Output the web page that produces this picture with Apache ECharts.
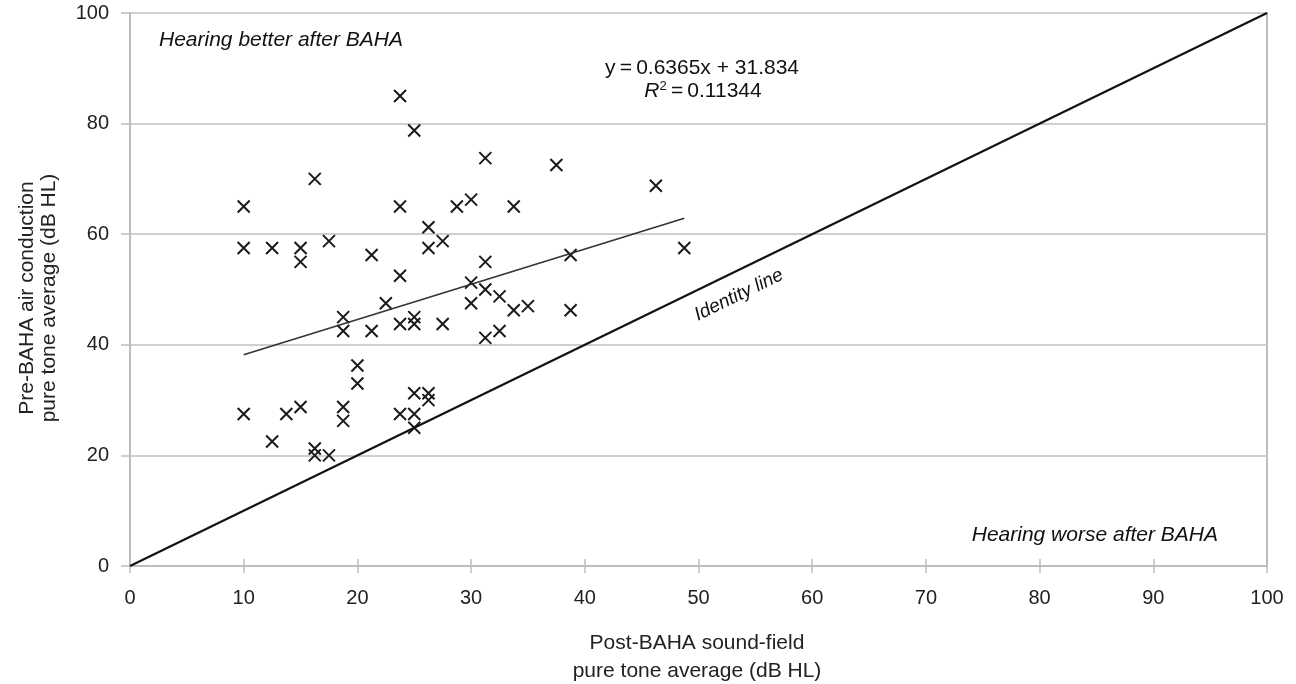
<!DOCTYPE html>
<html>
<head>
<meta charset="utf-8">
<script src="https://cdn.jsdelivr.net/npm/echarts@6/dist/echarts.min.js"></script>
<style>
  html, body { margin: 0; padding: 0; background: #fff; }
  #chart { width: 1296px; height: 684px; }
</style>
</head>
<body>
<div id="chart"></div>
<script>
// post-BAHA sound-field PTA (x) vs pre-BAHA air conduction PTA (y), dB HL
var postPTA = [10, 10, 10, 12.5, 12.5, 13.75, 15, 15, 15, 16.25, 16.25, 16.25, 17.5, 17.5,
    18.75, 18.75, 18.75, 18.75, 20, 20, 21.25, 21.25, 22.5, 23.75, 23.75, 23.75, 23.75, 23.75,
    25, 25, 25, 25, 25, 25, 26.25, 26.25, 26.25, 26.25, 27.5, 27.5, 28.75, 30, 30, 30,
    31.25, 31.25, 31.25, 31.25, 32.5, 32.5, 33.75, 33.75, 35, 37.5, 38.75, 38.75, 46.25, 48.75];
var prePTA = [65, 57.5, 27.5, 57.5, 22.5, 27.5, 57.5, 55, 28.75, 70, 21.25, 20, 58.75, 20,
    45, 42.5, 28.75, 26.25, 36.25, 33, 56.25, 42.5, 47.5, 85, 65, 52.5, 43.75, 27.5,
    78.75, 45, 43.75, 31.25, 27.5, 25, 61.25, 57.5, 31.25, 30, 58.75, 43.75, 65, 66.25, 51.25, 47.5,
    73.75, 55, 50, 41.25, 48.75, 42.5, 65, 46.25, 47, 72.5, 56.25, 46.25, 68.75, 57.5];

// linear trend end points (y = 0.6365x + 31.834) and identity line
var trendX = [10, 48.75];
var trendY = [38.2, 62.9];
var identityX = [0, 100];
var identityY = [0, 100];

var xTicks = [0, 10, 20, 30, 40, 50, 60, 70, 80, 90, 100];
var yTicks = [0, 20, 40, 60, 80, 100];

var FONT = '"Liberation Sans", Arial, sans-serif';

function pairs(xs, ys) {
    var out = [];
    for (var i = 0; i < xs.length; i++) out.push([xs[i], ys[i]]);
    return out;
}

function label(x, y, text, font, align, extra) {
    var style = {text: text, font: font + ' ' + FONT, fill: '#111',
        align: align, verticalAlign: 'middle', textAlign: align, textVerticalAlign: 'middle'};
    for (var k in (extra || {})) style[k] = extra[k];
    return {type: 'text', x: x, y: y, style: style};
}

var chart = echarts.init(document.getElementById('chart'));
chart.setOption({
    animation: false,
    textStyle: {fontFamily: FONT},
    grid: {
        left: 130, right: 29, top: 13, bottom: 118,
        show: true, borderColor: '#bdbdbd', borderWidth: 2
    },
    xAxis: [{
        type: 'value', min: xTicks[0], max: xTicks[xTicks.length - 1], interval: 10,
        axisLine: {lineStyle: {color: '#bdbdbd', width: 2}},
        axisTick: {show: true, length: 7, lineStyle: {color: '#bdbdbd', width: 1.5}},
        axisLabel: {color: '#222', fontSize: 20, margin: 22, fontFamily: FONT},
        splitLine: {show: false}
    }, {
        type: 'value', min: xTicks[0], max: xTicks[xTicks.length - 1], interval: 10,
        position: 'bottom',
        axisLine: {show: false},
        axisTick: {show: true, inside: true, length: 7, lineStyle: {color: '#bdbdbd', width: 1.5}},
        axisLabel: {show: false},
        splitLine: {show: false}
    }],
    yAxis: {
        type: 'value', min: yTicks[0], max: yTicks[yTicks.length - 1], interval: 20,
        axisLine: {show: true, lineStyle: {color: '#bdbdbd', width: 2}},
        axisTick: {show: true, length: 9, lineStyle: {color: '#bdbdbd', width: 1.5}},
        axisLabel: {color: '#222', fontSize: 20, margin: 21, fontFamily: FONT},
        splitLine: {lineStyle: {color: '#cfcfcf', width: 2}}
    },
    series: [{
        name: 'Identity line',
        type: 'line',
        data: pairs(identityX, identityY),
        symbol: 'none',
        lineStyle: {color: '#111', width: 2.2}
    }, {
        name: 'Trend',
        type: 'line',
        data: pairs(trendX, trendY),
        symbol: 'none',
        lineStyle: {color: '#333', width: 1.6}
    }, {
        name: 'Patients',
        type: 'scatter',
        data: pairs(postPTA, prePTA),
        symbol: 'path://M0,0L10,10M10,0L0,10',
        symbolSize: 12,
        itemStyle: {color: 'none', borderColor: '#1a1a1a', borderWidth: 2, opacity: 1}
    }],
    graphic: [
        label(159, 40, 'Hearing better after BAHA', 'italic 21px', 'left'),
        label(1218, 535, 'Hearing worse after BAHA', 'italic 21px', 'right'),
        label(702, 68, 'y\u2009=\u20090.6365x + 31.834', '21px', 'center'),
        label(703, 91, '{i|R}{s|2}\u2009=\u20090.11344', '21px', 'center', {
            rich: {
                i: {fontStyle: 'italic', fontSize: 21, fontFamily: FONT, fill: '#111'},
                s: {fontSize: 13, fontFamily: FONT, fill: '#111', padding: [0, 0, 9, 0]}
            }
        }),
        {type: 'text', x: 739, y: 295, rotation: 26 * Math.PI / 180, style: {text: 'Identity line', font: 'italic 19px ' + FONT, fill: '#111', align: 'center', verticalAlign: 'middle', textAlign: 'center', textVerticalAlign: 'middle'}},
        {type: 'text', x: 697, y: 657, style: {text: 'Post-BAHA sound-field\npure tone average (dB HL)', font: '21px ' + FONT, lineHeight: 28, fill: '#222', align: 'center', verticalAlign: 'middle', textAlign: 'center', textVerticalAlign: 'middle'}},
        {type: 'text', x: 38, y: 298, rotation: Math.PI / 2, style: {text: 'Pre-BAHA air conduction\npure tone average (dB HL)', font: '21px ' + FONT, lineHeight: 22, fill: '#222', align: 'center', verticalAlign: 'middle', textAlign: 'center', textVerticalAlign: 'middle'}}
    ]
});
</script>
</body>
</html>
